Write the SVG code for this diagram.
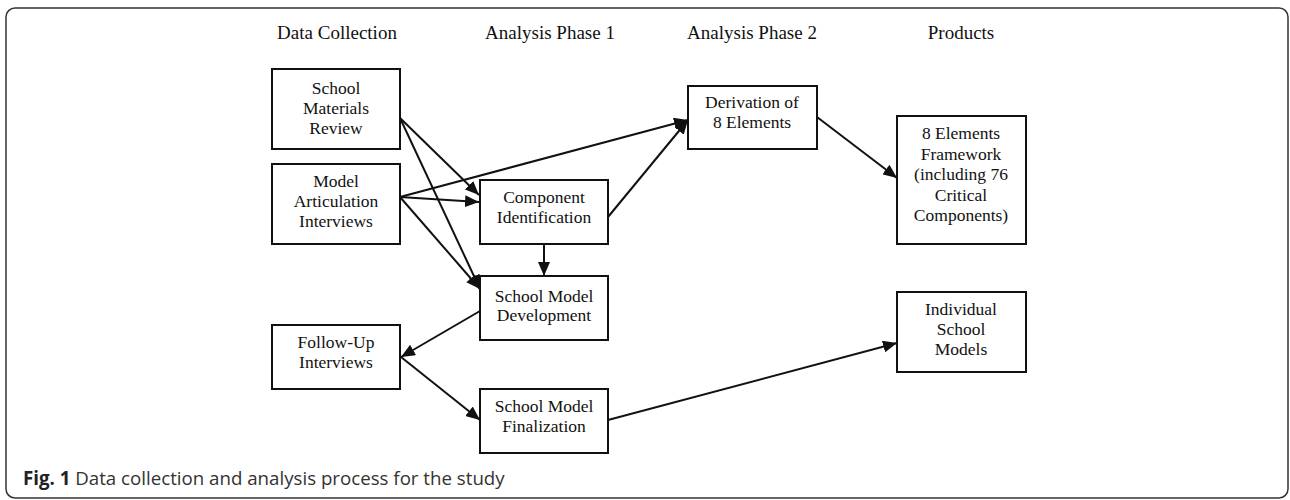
<svg xmlns="http://www.w3.org/2000/svg" width="1290" height="500" viewBox="0 0 1290 500">
<style>
.box{fill:#fff;stroke:#111;stroke-width:2}
.t{font-family:"Liberation Serif","Times New Roman",serif;font-size:17.5px;fill:#111;text-anchor:middle}
.h{font-family:"Liberation Serif","Times New Roman",serif;font-size:19px;fill:#111;text-anchor:middle}
.c{stroke:#111;stroke-width:2;fill:none;marker-end:url(#ah)}
.cap{font-family:"Open Sans","Noto Sans",sans-serif;font-size:18.7px;fill:#333}
</style>
<defs>
<marker id="ah" markerUnits="userSpaceOnUse" markerWidth="15" markerHeight="12" refX="14" refY="6" orient="auto">
<path d="M0,0 L14,6 L0,12 Z" fill="#111"/>
</marker>
</defs>
<rect x="6" y="8" width="1282" height="490" rx="9" fill="none" stroke="#333" stroke-width="1.5"/>
<g id="headers">
<text class="h" x="337" y="39">Data Collection</text>
<text class="h" x="550" y="39">Analysis Phase 1</text>
<text class="h" x="752" y="39">Analysis Phase 2</text>
<text class="h" x="961" y="39">Products</text>
</g>
<g id="connectors">
<line class="c" x1="400" y1="118" x2="479" y2="195"/>
<line class="c" x1="400" y1="118" x2="480" y2="289"/>
<line class="c" x1="400" y1="197" x2="688" y2="120"/>
<line class="c" x1="400" y1="197" x2="479" y2="202"/>
<line class="c" x1="400" y1="197" x2="480" y2="289"/>
<line class="c" x1="608" y1="217" x2="688" y2="120"/>
<line class="c" x1="544" y1="244" x2="544" y2="276"/>
<line class="c" x1="817" y1="117" x2="897" y2="178"/>
<line class="c" x1="480" y1="311" x2="401" y2="357"/>
<line class="c" x1="401" y1="357" x2="480" y2="420"/>
<line class="c" x1="608" y1="420" x2="897" y2="343"/>
</g>
<g id="smr"><rect class="box" x="272" y="69" width="128" height="80"/>
<text class="t" x="336" y="94">School</text><text class="t" x="336" y="114">Materials</text><text class="t" x="336" y="134">Review</text></g>
<g id="mai"><rect class="box" x="272" y="164" width="128" height="80"/>
<text class="t" x="336" y="187">Model</text><text class="t" x="336" y="207">Articulation</text><text class="t" x="336" y="227">Interviews</text></g>
<g id="fui"><rect class="box" x="272" y="325" width="128" height="64"/>
<text class="t" x="336" y="348">Follow-Up</text><text class="t" x="336" y="368">Interviews</text></g>
<g id="ci"><rect class="box" x="480" y="180" width="128" height="64"/>
<text class="t" x="544" y="203">Component</text><text class="t" x="544" y="223">Identification</text></g>
<g id="smd"><rect class="box" x="480" y="276" width="128" height="64"/>
<text class="t" x="544" y="302">School Model</text><text class="t" x="544" y="321">Development</text></g>
<g id="smf"><rect class="box" x="480" y="389" width="128" height="64"/>
<text class="t" x="544" y="412">School Model</text><text class="t" x="544" y="432">Finalization</text></g>
<g id="der"><rect class="box" x="688" y="86" width="129" height="63"/>
<text class="t" x="752" y="108">Derivation of</text><text class="t" x="752" y="128">8 Elements</text></g>
<g id="fw"><rect class="box" x="897" y="116" width="129" height="128"/>
<text class="t" x="961" y="139">8 Elements</text><text class="t" x="961" y="160">Framework</text><text class="t" x="961" y="180">(including 76</text><text class="t" x="961" y="201">Critical</text><text class="t" x="961" y="221">Components)</text></g>
<g id="ism"><rect class="box" x="897" y="292" width="129" height="80"/>
<text class="t" x="961" y="315">Individual</text><text class="t" x="961" y="335">School</text><text class="t" x="961" y="355">Models</text></g>
<g id="caption"><text class="cap" x="23" y="485"><tspan font-weight="bold" fill="#222">Fig. 1</tspan> Data collection and analysis process for the study</text></g>
</svg>
